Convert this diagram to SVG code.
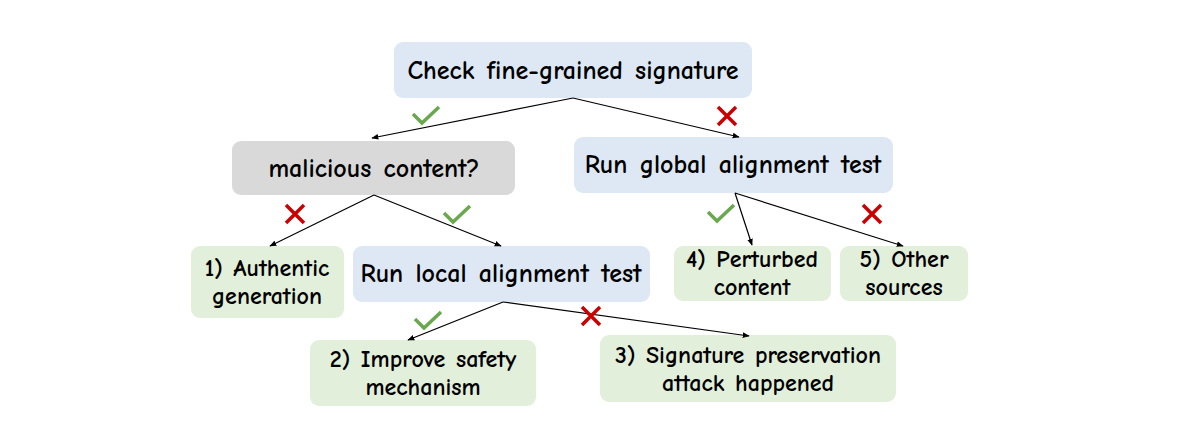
<svg xmlns="http://www.w3.org/2000/svg" width="1177" height="447" viewBox="0 0 1177 447">
<defs>
<marker id="ah" viewBox="0 0 10 10" refX="9" refY="5" markerWidth="7" markerHeight="7" orient="auto" markerUnits="userSpaceOnUse"><path d="M0,1 L10,5 L0,9 z" fill="#000"/></marker>
<path id="ck" d="M-14,-3 L-5,6 L12,-10" fill="none" stroke="#6aa84f" stroke-width="3.5"/>
<path id="xx" d="M-9,-9 L9,9 M9,-9 L-9,9" fill="none" stroke="#cc0000" stroke-width="3.5"/>
</defs>
<style>
.t{font-family:"Comic Neue","Noto Sans","DejaVu Sans",sans-serif;font-weight:700;font-size:26px;word-spacing:3px;fill:#000;text-anchor:middle}
.s{font-size:24px;word-spacing:2px}
.blue{fill:#dde8f4}
.grey{fill:#d9d9d9}
.green{fill:#e2efda}
.c{stroke:#000;stroke-width:1.2;fill:none;marker-end:url(#ah)}
</style>
<rect width="1177" height="447" fill="#fff"/>
<g id="root"><rect class="blue" x="394" y="42" width="358" height="56" rx="9"/><text class="t" x="573" y="79">Check fine-grained signature</text></g>
<g id="malicious"><rect class="grey" x="232" y="141" width="283" height="54" rx="9"/><text class="t" x="374" y="177">malicious content?</text></g>
<g id="global"><rect class="blue" x="574" y="137" width="319" height="56" rx="9"/><text class="t" x="733" y="173">Run global alignment test</text></g>
<g id="n1"><rect class="green" x="191" y="246" width="153" height="72" rx="9"/><text class="t s" x="267" y="276">1) Authentic</text><text class="t s" x="267" y="304">generation</text></g>
<g id="local"><rect class="blue" x="353" y="246" width="297" height="56" rx="9"/><text class="t" x="501" y="282">Run local alignment test</text></g>
<g id="n4"><rect class="green" x="674" y="246" width="157" height="55" rx="9"/><text class="t s" x="752" y="267">4) Perturbed</text><text class="t s" x="752" y="295">content</text></g>
<g id="n5"><rect class="green" x="840" y="246" width="128" height="55" rx="9"/><text class="t s" x="904" y="267">5) Other</text><text class="t s" x="904" y="295">sources</text></g>
<g id="n2"><rect class="green" x="310" y="340" width="226" height="66" rx="9"/><text class="t s" x="423" y="367">2) Improve safety</text><text class="t s" x="423" y="395">mechanism</text></g>
<g id="n3"><rect class="green" x="600" y="335" width="296" height="67" rx="9"/><text class="t s" x="748" y="363">3) Signature preservation</text><text class="t s" x="748" y="391">attack happened</text></g>
<g id="connectors">
<line class="c" x1="573" y1="98" x2="372" y2="138"/>
<line class="c" x1="573" y1="98" x2="739" y2="137"/>
<line class="c" x1="374" y1="195" x2="270" y2="246"/>
<line class="c" x1="374" y1="195" x2="501" y2="246"/>
<line class="c" x1="735" y1="193" x2="752" y2="245"/>
<line class="c" x1="735" y1="193" x2="903" y2="246"/>
<line class="c" x1="503" y1="302" x2="408" y2="340"/>
<line class="c" x1="503" y1="302" x2="749" y2="336"/>
</g>
<g id="marks">
<use href="#ck" x="427" y="117"/>
<use href="#xx" x="727" y="116"/>
<use href="#xx" x="295" y="214"/>
<use href="#ck" x="458" y="216"/>
<use href="#ck" x="722" y="215"/>
<use href="#xx" x="872" y="214"/>
<use href="#ck" x="429" y="322"/>
<use href="#xx" x="591" y="316"/>
</g>
</svg>
